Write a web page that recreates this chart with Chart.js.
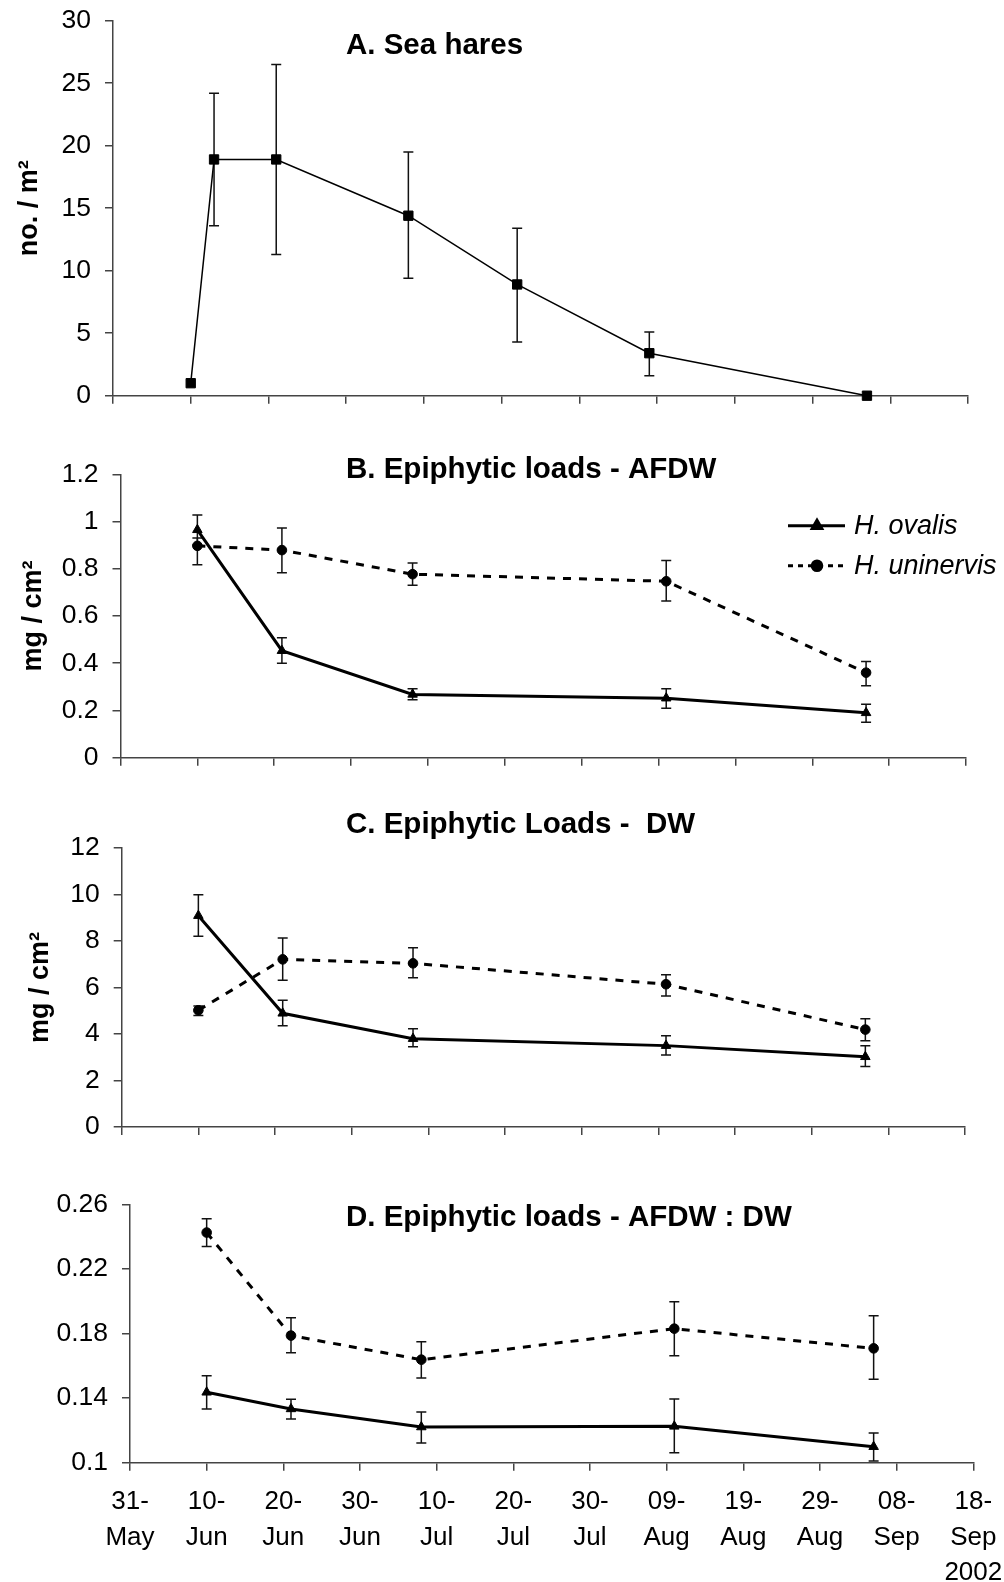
<!DOCTYPE html>
<html>
<head>
<meta charset="utf-8">
<title>Sea hares and epiphytic loads</title>
<script src="https://cdn.jsdelivr.net/npm/chart.js@4.4.1/dist/chart.umd.min.js"></script>
<style>
    body { margin: 0; background: #fff; }
    #page { position: relative; width: 1004px; height: 1582px; overflow: hidden; }
    canvas { position: absolute; left: 0; }
</style>
</head>
<body>
<div id="page">
    <canvas id="chartA" width="1004" height="420" style="top:0px"></canvas>
    <canvas id="chartB" width="1004" height="370" style="top:420px"></canvas>
    <canvas id="chartC" width="1004" height="360" style="top:790px"></canvas>
    <canvas id="chartD" width="1004" height="432" style="top:1150px"></canvas>
</div>
<script>
// x axis: days since 31 May 2002
const tickDays = [0, 10, 20, 30, 40, 50, 60, 70, 80, 90, 100, 110];
const tickLabels = [
    ["31-", "May"], ["10-", "Jun"], ["20-", "Jun"], ["30-", "Jun"],
    ["10-", "Jul"], ["20-", "Jul"], ["30-", "Jul"], ["09-", "Aug"],
    ["19-", "Aug"], ["29-", "Aug"], ["08-", "Sep"], ["18-", "Sep", "2002"]
];

// A. Sea hares (no. / m2)
const seaHareDays = [10, 13, 21, 38, 52, 69, 97];
const seaHareMean = [1.0, 18.9, 18.9, 14.4, 8.9, 3.4, 0];
const seaHareHigh = [1.0, 24.2, 26.5, 19.5, 13.4, 5.1, 0];
const seaHareLow = [1.0, 13.6, 11.3, 9.4, 4.3, 1.6, 0];
const seaHareTicks = [0, 5, 10, 15, 20, 25, 30];

// epiphyte sampling dates
const epiDays = [10, 21, 38, 71, 97];

// B. Epiphytic loads - AFDW (mg / cm2)
const afdwOvalis = [0.965, 0.453, 0.268, 0.252, 0.19];
const afdwOvalisHigh = [1.028, 0.508, 0.292, 0.292, 0.226];
const afdwOvalisLow = [0.90, 0.40, 0.245, 0.209, 0.15];
const afdwUninervis = [0.897, 0.879, 0.777, 0.747, 0.36];
const afdwUninervisHigh = [0.93, 0.973, 0.824, 0.835, 0.407];
const afdwUninervisLow = [0.817, 0.783, 0.73, 0.664, 0.305];
const afdwTicks = [0, 0.2, 0.4, 0.6, 0.8, 1, 1.2];

// C. Epiphytic loads - DW (mg / cm2)
const dwOvalis = [9.09, 4.89, 3.8, 3.5, 3.02];
const dwOvalisHigh = [9.99, 5.45, 4.23, 3.93, 3.5];
const dwOvalisLow = [8.2, 4.36, 3.45, 3.1, 2.6];
const dwUninervis = [5.02, 7.21, 7.04, 6.14, 4.19];
const dwUninervisHigh = [5.2, 8.13, 7.71, 6.55, 4.66];
const dwUninervisLow = [4.8, 6.31, 6.42, 5.63, 3.71];
const dwTicks = [0, 2, 4, 6, 8, 10, 12];

// D. Epiphytic loads - AFDW : DW
const ratioOvalis = [0.1436, 0.1333, 0.1221, 0.1225, 0.1099];
const ratioOvalisHigh = [0.1539, 0.1393, 0.1314, 0.1394, 0.1184];
const ratioOvalisLow = [0.1333, 0.127, 0.1122, 0.1062, 0.101];
const ratioUninervis = [0.2425, 0.1787, 0.1638, 0.183, 0.1708];
const ratioUninervisHigh = [0.2511, 0.1898, 0.1749, 0.1997, 0.191];
const ratioUninervisLow = [0.2338, 0.1681, 0.1525, 0.1663, 0.1516];
const ratioTicks = [0.1, 0.14, 0.18, 0.22, 0.26];

const FONT = "'Liberation Sans', Arial, sans-serif";
const AXIS_COLOR = '#444';

function toPoints(days, values) {
    return days.map((d, i) => ({ x: d, y: values[i] }));
}

// labels overhanging the plot ends should not push the plot area around
function noOverhang(scale) {
    scale.paddingTop = 0;
    scale.paddingBottom = 0;
    scale.paddingLeft = 0;
    scale.paddingRight = 0;
}

// vertical error bars, drawn through the y scale
const errorBars = {
    id: 'errorBars',
    beforeDatasetsDraw(chart) {
        const ctx = chart.ctx;
        const yScale = chart.scales.y;
        ctx.save();
        ctx.strokeStyle = '#111';
        ctx.lineWidth = 1.5;
        chart.data.datasets.forEach((ds, di) => {
            const meta = chart.getDatasetMeta(di);
            meta.data.forEach((pt, i) => {
                if (ds.errHigh[i] === ds.errLow[i]) return;
                const top = yScale.getPixelForValue(ds.errHigh[i]);
                const bot = yScale.getPixelForValue(ds.errLow[i]);
                ctx.beginPath();
                ctx.moveTo(pt.x, top);
                ctx.lineTo(pt.x, bot);
                ctx.moveTo(pt.x - 5, top);
                ctx.lineTo(pt.x + 5, top);
                ctx.moveTo(pt.x - 5, bot);
                ctx.lineTo(pt.x + 5, bot);
                ctx.stroke();
            });
        });
        ctx.restore();
    }
};

// panel title and the species legend
const panelText = {
    id: 'panelText',
    afterDraw(chart, args, opts) {
        const ctx = chart.ctx;
        ctx.save();
        ctx.fillStyle = '#000';
        ctx.textBaseline = 'alphabetic';
        ctx.textAlign = 'left';
        ctx.font = "bold 29.5px " + FONT;
        ctx.fillText(opts.title, 346, opts.titleY);

        if (opts.legend) {
            const rows = [
                { y: 105.7, dash: [], style: 'triangle', r: 5.5, text: 'H. ovalis', textY: 114 },
                { y: 145.7, dash: [5, 5], style: 'circle', r: 4.8, text: 'H. uninervis', textY: 153.5 }
            ];
            rows.forEach(row => {
                ctx.strokeStyle = '#000';
                ctx.lineWidth = 3;
                ctx.setLineDash(row.dash);
                ctx.beginPath();
                ctx.moveTo(788, row.y);
                ctx.lineTo(845, row.y);
                ctx.stroke();
                ctx.setLineDash([]);
                ctx.fillStyle = '#000';
                Chart.helpers.drawPoint(ctx, { pointStyle: row.style, radius: row.r, rotation: 0, borderWidth: 1 }, 817, row.y);
                ctx.fill();
                ctx.font = "italic 27px " + FONT;
                ctx.fillText(row.text, 854, row.textY);
            });
        }
        ctx.restore();
    }
};

function ovalisSet(values, high, low) {
    return {
        data: toPoints(epiDays, values),
        errHigh: high,
        errLow: low,
        borderColor: '#000',
        backgroundColor: '#000',
        borderWidth: 3,
        pointStyle: 'triangle',
        pointRadius: 5.5,
        pointBorderWidth: 1,
        tension: 0,
        clip: false
    };
}

function uninervisSet(values, high, low) {
    return {
        data: toPoints(epiDays, values),
        errHigh: high,
        errLow: low,
        borderColor: '#000',
        backgroundColor: '#000',
        borderWidth: 3,
        borderDash: [8, 8],
        pointStyle: 'circle',
        pointRadius: 4.8,
        pointBorderWidth: 1,
        tension: 0,
        clip: false
    };
}

function buildPanel(id, spec) {
    return new Chart(document.getElementById(id), {
        type: 'line',
        data: { datasets: spec.datasets },
        options: {
            responsive: false,
            animation: false,
            devicePixelRatio: 1,
            layout: { autoPadding: false, padding: { top: spec.top, right: spec.right, left: 0, bottom: 0 } },
            plugins: {
                legend: { display: false },
                tooltip: { enabled: false },
                panelText: { title: spec.title, titleY: spec.titleY, legend: spec.legend }
            },
            scales: {
                x: {
                    type: 'linear',
                    min: 0,
                    max: 110,
                    afterBuildTicks: scale => { scale.ticks = tickDays.map(v => ({ value: v })); },
                    afterFit: scale => { scale.height = spec.xHeight; noOverhang(scale); },
                    grid: { drawOnChartArea: false, drawTicks: true, tickLength: 8, color: AXIS_COLOR, lineWidth: 1.5 },
                    border: { display: true, color: AXIS_COLOR, width: 1.5 },
                    ticks: {
                        autoSkip: false,
                        maxRotation: 0,
                        padding: 14,
                        color: '#000',
                        font: { family: FONT, size: 26, lineHeight: 1.35 },
                        callback: value => spec.showDates ? tickLabels[tickDays.indexOf(value)] : ''
                    }
                },
                y: {
                    min: spec.yTicks[0],
                    max: spec.yTicks[spec.yTicks.length - 1],
                    afterBuildTicks: scale => { scale.ticks = spec.yTicks.map(v => ({ value: v })); },
                    afterFit: scale => { scale.width = spec.left; noOverhang(scale); },
                    grid: { drawOnChartArea: false, drawTicks: true, tickLength: 8, color: AXIS_COLOR, lineWidth: 1.5 },
                    border: { display: true, color: AXIS_COLOR, width: 1.5 },
                    ticks: {
                        padding: 14,
                        color: '#000',
                        font: { family: FONT, size: 26.5 },
                        callback: value => String(Number(value.toFixed(3)))
                    },
                    title: {
                        display: !!spec.yTitle,
                        text: spec.yTitle,
                        color: '#000',
                        font: { family: FONT, size: 27, weight: 'bold' },
                        padding: { top: spec.yTitlePad, bottom: 0 }
                    }
                }
            }
        },
        plugins: [errorBars, panelText]
    });
}

document.addEventListener('DOMContentLoaded', function() {
    buildPanel('chartA', {
        title: 'A. Sea hares', titleY: 54, legend: false,
        top: 20.7, right: 36, left: 113, xHeight: 24.3,
        yTicks: seaHareTicks, yTitle: 'no. / m²', yTitlePad: 13, showDates: false,
        datasets: [{
            data: toPoints(seaHareDays, seaHareMean),
            errHigh: seaHareHigh,
            errLow: seaHareLow,
            borderColor: '#000',
            backgroundColor: '#000',
            borderWidth: 1.5,
            pointStyle: 'rect',
            pointRadius: 6.6,
            pointBorderWidth: 1,
            tension: 0,
            clip: false
        }]
    });

    buildPanel('chartB', {
        title: 'B. Epiphytic loads - AFDW', titleY: 58.3, legend: true,
        top: 54.3, right: 38, left: 120.5, xHeight: 32.3,
        yTicks: afdwTicks, yTitle: 'mg / cm²', yTitlePad: 17, showDates: false,
        datasets: [
            ovalisSet(afdwOvalis, afdwOvalisHigh, afdwOvalisLow),
            uninervisSet(afdwUninervis, afdwUninervisHigh, afdwUninervisLow)
        ]
    });

    buildPanel('chartC', {
        title: 'C. Epiphytic Loads -  DW', titleY: 42.7, legend: false,
        top: 58, right: 39, left: 121.7, xHeight: 23,
        yTicks: dwTicks, yTitle: 'mg / cm²', yTitlePad: 24, showDates: false,
        datasets: [
            ovalisSet(dwOvalis, dwOvalisHigh, dwOvalisLow),
            uninervisSet(dwUninervis, dwUninervisHigh, dwUninervisLow)
        ]
    });

    buildPanel('chartD', {
        title: 'D. Epiphytic loads - AFDW : DW', titleY: 76, legend: false,
        top: 54.3, right: 30.7, left: 130, xHeight: 119.3,
        yTicks: ratioTicks, yTitle: '', yTitlePad: 0, showDates: true,
        datasets: [
            ovalisSet(ratioOvalis, ratioOvalisHigh, ratioOvalisLow),
            uninervisSet(ratioUninervis, ratioUninervisHigh, ratioUninervisLow)
        ]
    });
});
</script>
</body>
</html>
